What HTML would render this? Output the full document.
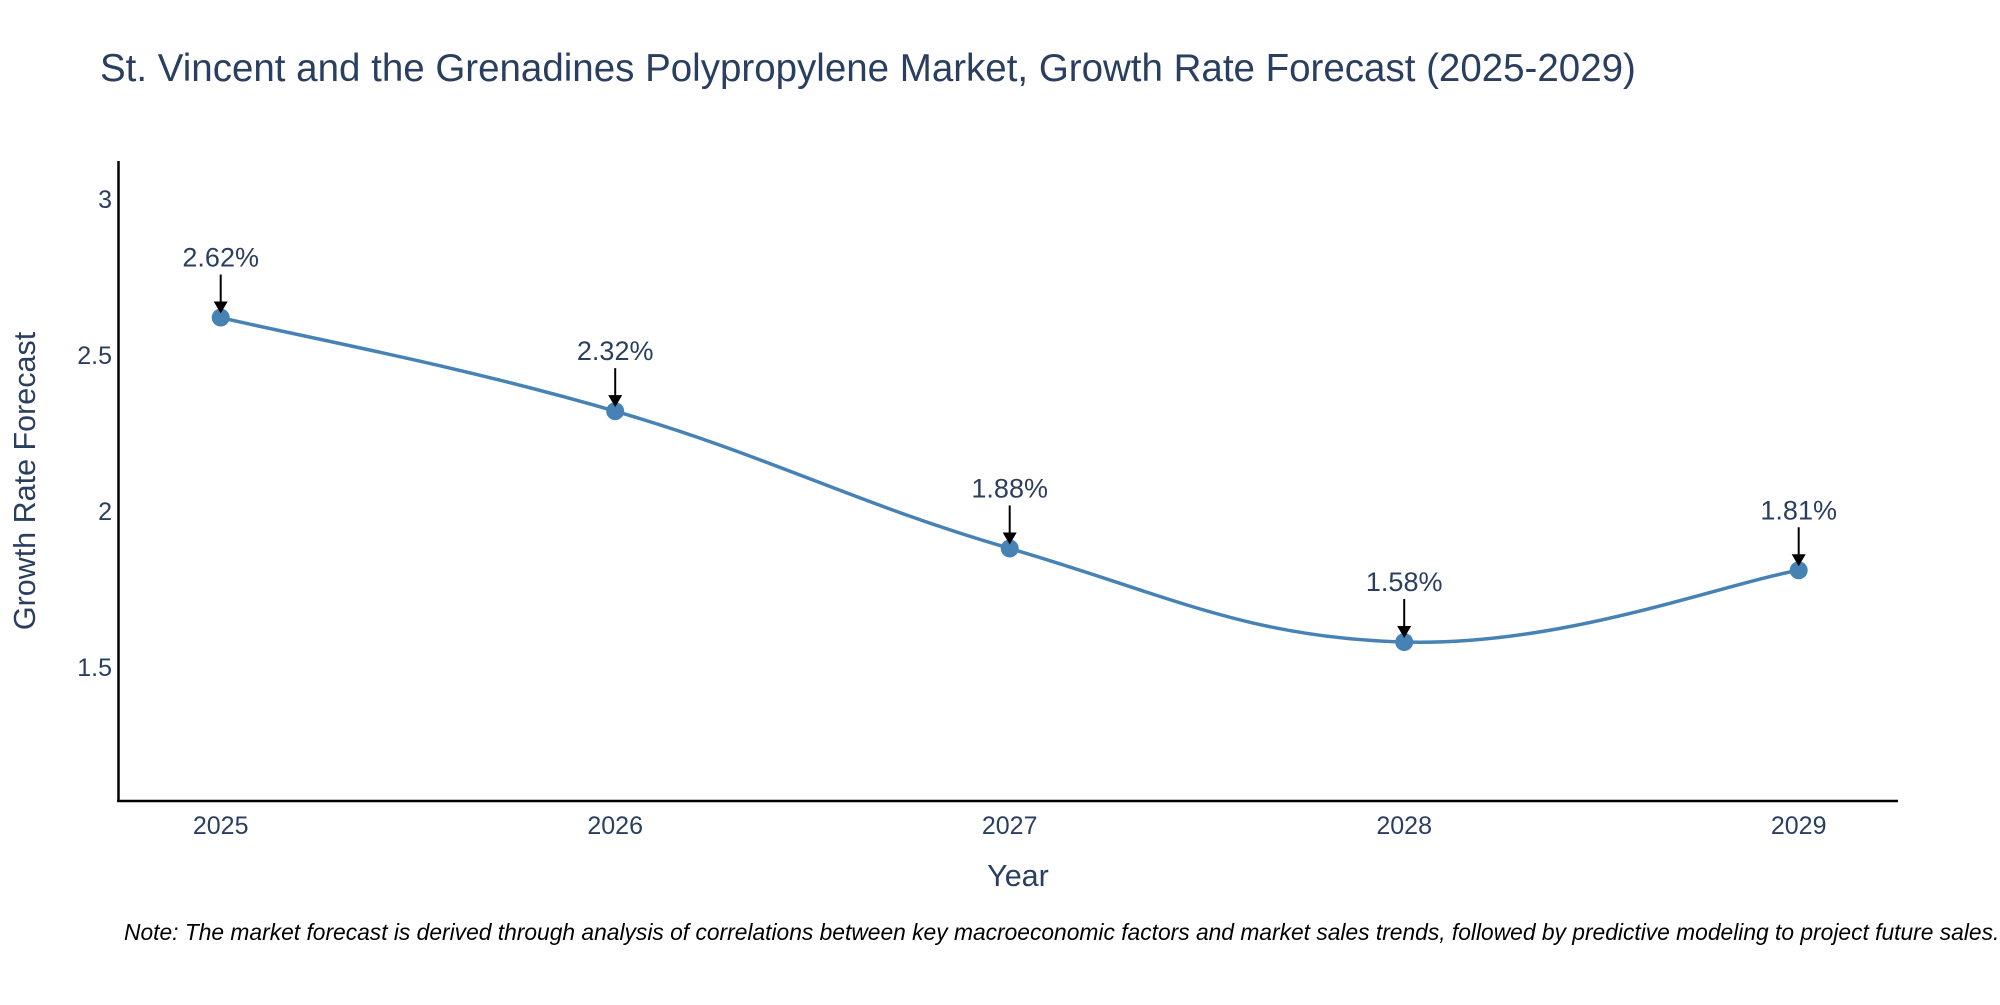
<!DOCTYPE html>
<html><head><meta charset="utf-8"><style>
html,body{margin:0;padding:0;background:#fff;}
svg text{font-family:"Liberation Sans",sans-serif;}
</style></head><body>
<svg id="chart" width="2000" height="1000" xmlns="http://www.w3.org/2000/svg">
<text x="100" y="81" font-size="38.5" fill="#2a3f5f">St. Vincent and the Grenadines Polypropylene Market, Growth Rate Forecast (2025-2029)</text>
<g id="yticks"></g><g id="xticks"></g>
<line x1="118.5" y1="161" x2="118.5" y2="802" stroke="#000" stroke-width="2.5"/>
<line x1="117" y1="801" x2="1898" y2="801" stroke="#000" stroke-width="2.5"/>
<g id="series"></g><g id="annots"></g>
<text transform="translate(35,481) rotate(-90)" text-anchor="middle" font-size="30.5" fill="#2a3f5f">Growth Rate Forecast</text>
<text x="1018" y="886" text-anchor="middle" font-size="30.5" fill="#2a3f5f">Year</text>
<text x="124" y="940" font-size="22.8" font-style="italic" fill="#000">Note: The market forecast is derived through analysis of correlations between key macroeconomic factors and market sales trends, followed by predictive modeling to project future sales.</text>
</svg>
<script>
const years=["2025","2026","2027","2028","2029"];
const values=[2.62,2.32,1.88,1.58,1.81];
const yTickVals=[1.5,2,2.5,3];
const yTickLabels=["1.5","2","2.5","3"];
const NS="http://www.w3.org/2000/svg";
const X0=220.7,XS=394.5;
function xPos(i){return X0+i*XS;}
function yPos(v){return 667-(v-1.5)*312;}
function mk(tag,attrs,parent){const e=document.createElementNS(NS,tag);for(const k in attrs)e.setAttribute(k,attrs[k]);parent.appendChild(e);return e;}
const yt=document.getElementById('yticks');
yTickVals.forEach((v,i)=>{const t=mk('text',{x:112,y:yPos(v)+9,'text-anchor':'end','font-size':25,fill:'#2a3f5f'},yt);t.textContent=yTickLabels[i];

});
const xt=document.getElementById('xticks');
years.forEach((y,i)=>{const t=mk('text',{x:xPos(i),y:834,'text-anchor':'middle','font-size':25,fill:'#2a3f5f'},xt);t.textContent=y;

});
const pts=values.map((v,i)=>[xPos(i),yPos(v)]);
let d="M"+pts[0][0]+","+pts[0][1];
const s=0.2;
for(let i=0;i<pts.length-1;i++){const p0=pts[Math.max(i-1,0)],p1=pts[i],p2=pts[i+1],p3=pts[Math.min(i+2,pts.length-1)];
const c1=[p1[0]+(p2[0]-p0[0])*s,p1[1]+(p2[1]-p0[1])*s],c2=[p2[0]-(p3[0]-p1[0])*s,p2[1]-(p3[1]-p1[1])*s];
d+=` C${c1[0]},${c1[1]} ${c2[0]},${c2[1]} ${p2[0]},${p2[1]}`;}
const sg=document.getElementById('series');
const path=mk('path',{d:d,fill:'none',stroke:'#4682b4','stroke-width':3.5},sg);


const an=document.getElementById('annots');
pts.forEach((p,i)=>{const c=mk('circle',{cx:p[0],cy:p[1],r:9,fill:'#4682b4'},sg);


const l=mk('line',{x1:p[0],y1:p[1]-43,x2:p[0],y2:p[1]-14,stroke:'#000','stroke-width':2},an);


const h=mk('polygon',{points:`${p[0]-7},${p[1]-16} ${p[0]+7},${p[1]-16} ${p[0]},${p[1]-4}`,fill:'#000'},an);


const t=mk('text',{x:p[0],y:p[1]-51,'text-anchor':'middle','font-size':27,fill:'#2a3f5f'},an);
t.textContent=values[i].toFixed(2)+"%";

});
</script>
</body></html>
